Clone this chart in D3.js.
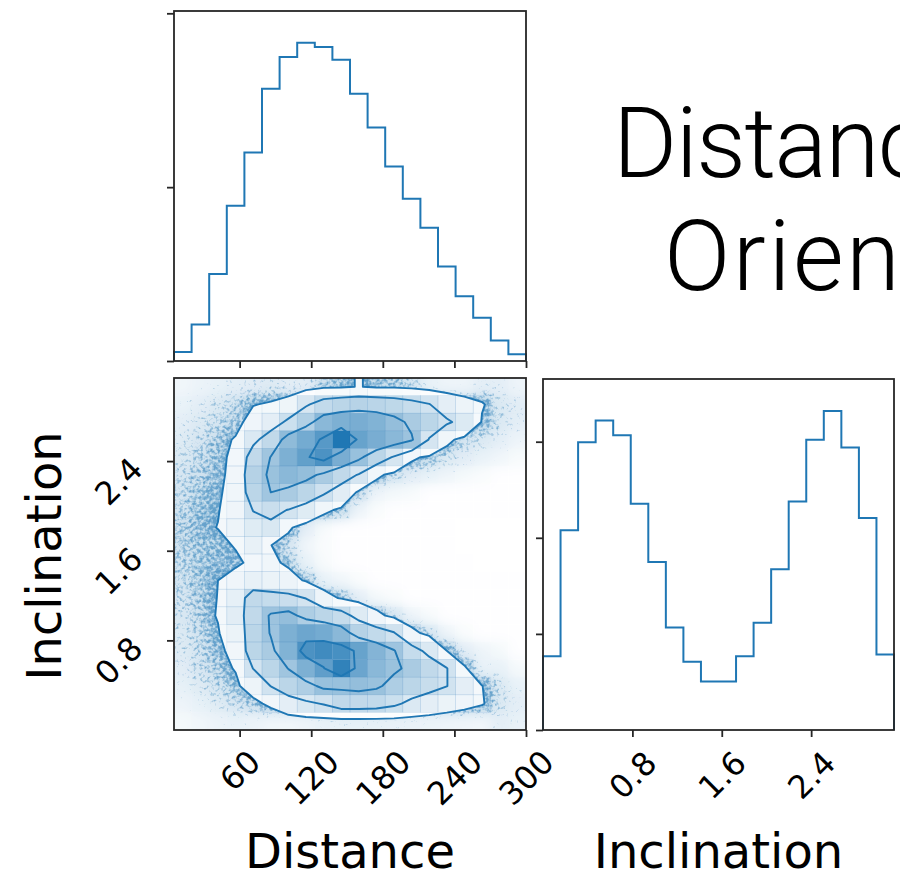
<!DOCTYPE html>
<html>
<head>
<meta charset="utf-8">
<script src="https://cdn.jsdelivr.net/npm/d3@7/dist/d3.min.js"></script>
<style>
  html, body { margin: 0; padding: 0; background: #fff; }
  svg { display: block; }
  .tick-label, .axis-label { font-family: "DejaVu Sans", sans-serif; fill: #000; }
  .title { font-family: Roboto, "Open Sans", sans-serif; font-weight: 300; fill: #000; }
</style>
</head>
<body>
<div id="chart"></div>
<script>
// ranges of the two parameters
const distRange = [5, 300];
const inclRange = [0, Math.PI];

// 1D marginal histograms (20 bins each)
const distCounts = [207, 842, 2004, 3573, 4797, 6265, 6992, 7321, 7222, 6931,
  6151, 5370, 4475, 3733, 3068, 2173, 1492, 995, 474, 153];
const inclCounts = [1537, 4155, 5990, 6440, 6136, 4709, 3497, 2133, 1420, 1011,
  1011, 1537, 2230, 3345, 4757, 6039, 6641, 5879, 4411, 1572];

// ticks
const distTicks = [60, 120, 180, 240, 300];
const distTickLabels = ['60', '120', '180', '240', '300'];
const inclTicks = [0.8, 1.6, 2.4];
const inclTickLabels = ['0.8', '1.6', '2.4'];
const distCountTicks = [0, 4000, 8000];
const inclCountTicks = [0, 2000, 4000, 6000];

// 2D histogram, % of peak cell; rows from top (high inclination) down, columns by distance
const density = [
  [1.0, 1.3, 1.6, 1.9, 2.1, 2.3, 2.0, 2.0, 3.5, 4.0, 5.3, 4.0, 3.8, 3.0, 1.5, 1.2, 1.2, 1.8, 1.8, 1.2],
  [1.4, 1.9, 2.5, 3.2, 4.8, 5.5, 7.5, 18, 27, 30, 32, 31, 29, 25, 20.5, 12, 8, 5.5, 2.5, 2.0],
  [1.8, 2.4, 3.0, 3.5, 7, 12, 23, 35, 52, 58, 60, 56, 48, 38, 30, 22, 15.5, 4.5, 2.5, 1.8],
  [2.2, 2.8, 3.6, 5.4, 16, 28, 50, 62, 75, 100, 68, 60, 52, 44, 19, 6.5, 3.0, 2.5, 1.8, 1.2],
  [2.5, 3.2, 4.0, 6, 28, 42.5, 58, 70, 80, 60, 46, 30, 18.5, 6, 4.0, 2.5, 2.0, 1.4, 1.0, 0.7],
  [2.8, 3.4, 4.2, 6.2, 33, 45, 52, 48, 38, 28, 19, 6.5, 3, 2, 1.5, 1.1, 0.8, 0.6, 0.5, 0.4],
  [3.0, 3.8, 4.5, 6.5, 30, 42, 38, 30, 22, 13, 3.5, 1.2, 0.9, 0.7, 0.5, 0.4, 0.3, 0.3, 0.3, 0.3],
  [3.2, 4.0, 4.8, 7, 20.5, 24, 19.5, 14, 6.5, 3.8, 1.2, 0.6, 0.4, 0.3, 0.3, 0.2, 0.2, 0.2, 0.2, 0.2],
  [3.4, 4.2, 5.1, 8, 14, 16.7, 6, 1.8, 0.7, 0.5, 0.4, 0.3, 0.3, 0.2, 0.2, 0.2, 0.15, 0.15, 0.15, 0.15],
  [3.4, 3.8, 4.0, 5.3, 10, 5.1, 2.7, 1.0, 0.6, 0.5, 0.4, 0.3, 0.3, 0.2, 0.2, 0.2, 0.15, 0.15, 0.15, 0.15],
  [3.2, 3.8, 4.3, 4.2, 6.0, 6.5, 3.8, 1.5, 0.7, 0.5, 0.4, 0.3, 0.3, 0.25, 0.2, 0.2, 0.2, 0.15, 0.15, 0.15],
  [3.0, 3.8, 5.0, 7, 10, 9, 8, 4.2, 1.5, 1.0, 0.6, 0.5, 0.4, 0.35, 0.3, 0.3, 0.25, 0.2, 0.2, 0.2],
  [2.8, 3.6, 5.1, 11, 28, 26, 24, 19.5, 8, 4.2, 1.8, 0.9, 0.6, 0.5, 0.4, 0.35, 0.3, 0.25, 0.2, 0.2],
  [2.6, 3.4, 5.3, 13, 28, 44, 48, 36, 30, 26, 15, 7, 3, 1.2, 0.7, 0.5, 0.4, 0.35, 0.3, 0.25],
  [2.4, 3.2, 4.6, 9, 30, 43, 58, 65, 62, 52, 33, 27, 21, 7, 3, 1.2, 0.6, 0.5, 0.4, 0.3],
  [2.2, 3.0, 4.2, 6.2, 30, 38, 56, 80, 85, 82, 68, 55, 43, 26, 16, 5.0, 2.0, 1.2, 0.8, 0.5],
  [2.0, 2.8, 3.6, 5.3, 20.3, 30, 42.5, 58, 71, 92, 66, 52, 45, 38, 28, 20.5, 5.6, 1.5, 1.5, 0.8],
  [1.6, 2.2, 3.0, 4.0, 8, 20.3, 30, 36, 46, 46, 48, 45, 36, 30, 25, 20.3, 12, 5.1, 2.5, 1.5],
  [1.2, 1.6, 2.2, 2.8, 3.5, 6.3, 12, 17, 21, 28, 28, 27, 23, 16, 12, 9, 7, 5.4, 2.5, 1.8],
  [0.8, 1.0, 1.3, 1.5, 1.3, 1.0, 1.0, 1.2, 1.5, 1.6, 1.6, 1.6, 1.5, 1.4, 1.3, 1.2, 1.1, 1.0, 1.8, 1.5],
];
const contourLevels = [5, 20, 42, 72];

const axisLabels = { dist: 'Distance', incl: 'Inclination' };
const titleLines = ['Distance and', 'Orientation'];

const style = {
  line: '#1f77b4',
  frame: '#262626',
  frameWidth: 1.8,
  tickSize: 7,
  tickFont: 32,
  labelFont: 48,
  titleFont: 98,
};

const box = {
  top: { x: 174, y: 11, w: 352, h: 350 },
  main: { x: 174, y: 378, w: 352, h: 352 },
  side: { x: 543, y: 379, w: 351, h: 351 },
};

const nx = density[0].length;
const ny = density.length;
const distStep = (distRange[1] - distRange[0]) / nx;
const inclStep = (inclRange[1] - inclRange[0]) / ny;
const distEdges = d3.range(nx + 1).map((i) => distRange[0] + i * distStep);
const inclEdges = d3.range(ny + 1).map((i) => inclRange[0] + i * inclStep);

const xDist = d3.scaleLinear().domain(distRange).range([box.main.x, box.main.x + box.main.w]);
const yIncl = d3.scaleLinear().domain(inclRange).range([box.main.y + box.main.h, box.main.y]);
const xIncl = d3.scaleLinear().domain(inclRange).range([box.side.x, box.side.x + box.side.w]);
const yDistCount = d3.scaleLinear().domain([0, 1.1 * d3.max(distCounts)]).range([box.top.y + box.top.h, box.top.y]);
const yInclCount = d3.scaleLinear().domain([0, 1.1 * d3.max(inclCounts)]).range([box.side.y + box.side.h, box.side.y]);

const svg = d3.select('#chart').append('svg')
  .attr('width', 900)
  .attr('height', 878);
const defs = svg.append('defs');

defs.append('clipPath').attr('id', 'clip-main')
  .append('rect')
  .attr('x', box.main.x).attr('y', box.main.y)
  .attr('width', box.main.w).attr('height', box.main.h);

// speckle filter: turns a soft density layer into a mottled cloud of points
const speckle = defs.append('filter')
  .attr('id', 'speckle')
  .attr('filterUnits', 'userSpaceOnUse')
  .attr('x', box.main.x).attr('y', box.main.y)
  .attr('width', box.main.w).attr('height', box.main.h)
  .attr('color-interpolation-filters', 'sRGB');
speckle.append('feGaussianBlur').attr('in', 'SourceAlpha').attr('stdDeviation', 6).attr('result', 'dens');
speckle.append('feTurbulence').attr('type', 'fractalNoise').attr('baseFrequency', 0.3)
  .attr('numOctaves', 2).attr('seed', 11).attr('result', 'noise');
speckle.append('feColorMatrix').attr('in', 'noise').attr('type', 'matrix')
  .attr('values', '0 0 0 0 0  0 0 0 0 0  0 0 0 0 0  1 0 0 0 0').attr('result', 'grain');
speckle.append('feComposite').attr('in', 'dens').attr('in2', 'grain').attr('operator', 'arithmetic')
  .attr('k1', 0).attr('k2', 2.8).attr('k3', 2.8).attr('k4', -2.8).attr('result', 'dots');
speckle.append('feComposite').attr('in', 'dens').attr('in2', 'dots').attr('operator', 'arithmetic')
  .attr('k1', 0).attr('k2', 0.3).attr('k3', 0.45).attr('k4', 0).attr('result', 'mix');
speckle.append('feFlood').attr('flood-color', style.line).attr('result', 'ink');
speckle.append('feComposite').attr('in', 'ink').attr('in2', 'mix').attr('operator', 'in');

// ---------- 1D histograms ----------
function stepPath(edges, counts, x, y) {
  const pts = [[x(edges[0]), y(0)]];
  counts.forEach((c, i) => pts.push([x(edges[i]), y(c)]));
  pts.push([x(edges[edges.length - 1]), y(counts[counts.length - 1])]);
  pts.push([x(edges[edges.length - 1]), y(0)]);
  return d3.line().curve(d3.curveStepAfter)(pts);
}

svg.append('path')
  .attr('class', 'hist hist--dist')
  .attr('d', stepPath(distEdges, distCounts, xDist, yDistCount))
  .attr('fill', 'none')
  .attr('stroke', style.line)
  .attr('stroke-width', 2);

svg.append('path')
  .attr('class', 'hist hist--incl')
  .attr('d', stepPath(inclEdges, inclCounts, xIncl, yInclCount))
  .attr('fill', 'none')
  .attr('stroke', style.line)
  .attr('stroke-width', 2);

// ---------- 2D panel ----------
const cells = [];
density.forEach((row, j) => row.forEach((v, i) => cells.push({ i, j, v })));
const vmax = d3.max(cells, (d) => d.v);

// cell bounds in data space; row 0 is the highest inclination
const cellX0 = (d) => xDist(distEdges[d.i]);
const cellX1 = (d) => xDist(distEdges[d.i + 1]);
const cellY0 = (d) => yIncl(inclRange[1] - d.j * inclStep);
const cellY1 = (d) => yIncl(inclRange[1] - (d.j + 1) * inclStep);

const main = svg.append('g').attr('class', 'main').attr('clip-path', 'url(#clip-main)');

// scattered samples, shown as a mottled cloud that follows the density
const hazeAlpha = (v) => Math.pow(Math.max(0, Math.min(1, (v - 0.5) / 4.5)), 0.7) * 0.8;
const pad = 20;
main.append('g')
  .attr('class', 'haze')
  .attr('filter', 'url(#speckle)')
  .selectAll('rect')
  .data(cells)
  .join('rect')
  .attr('x', (d) => cellX0(d) - (d.i === 0 ? pad : 0))
  .attr('y', (d) => cellY0(d) - (d.j === 0 ? pad : 0))
  .attr('width', (d) => cellX1(d) - cellX0(d) + (d.i === 0 || d.i === nx - 1 ? pad : 0) + 0.5)
  .attr('height', (d) => cellY1(d) - cellY0(d) + (d.j === 0 || d.j === ny - 1 ? pad : 0) + 0.5)
  .attr('fill', '#000')
  .attr('fill-opacity', (d) => hazeAlpha(d.v));

// like corner.py, the grid is padded with a copy of its edge rows/columns
// before contouring, so levels touching an edge run straight out of the frame
const padded = [];
for (let j = -1; j <= ny; j++) {
  const src = density[Math.max(0, Math.min(ny - 1, j))];
  for (let i = -1; i <= nx; i++) padded.push(src[Math.max(0, Math.min(nx - 1, i))]);
}
const gridToScreen = d3.geoTransform({
  point(gx, gy) {
    this.stream.point(
      xDist(distRange[0] + (gx - 1) * distStep),
      yIncl(inclRange[1] - (gy - 1) * inclStep),
    );
  },
});
const contourPath = d3.geoPath(gridToScreen);
const contours = d3.contours().size([nx + 2, ny + 2]).smooth(true).thresholds(contourLevels)(padded);

// white out the points inside the lowest level
main.append('path')
  .attr('class', 'contour-fill')
  .attr('d', contourPath(contours[0]))
  .attr('fill', '#fff');

// density cells
main.append('g')
  .attr('class', 'cells')
  .selectAll('rect')
  .data(cells)
  .join('rect')
  .attr('x', cellX0)
  .attr('y', cellY0)
  .attr('width', (d) => cellX1(d) - cellX0(d))
  .attr('height', (d) => cellY1(d) - cellY0(d))
  .attr('fill', style.line)
  .attr('fill-opacity', (d) => d.v / vmax)
  .attr('stroke', style.line)
  .attr('stroke-width', 0.7)
  .attr('stroke-opacity', (d) => (d.v >= contourLevels[0] ? 0.12 : 0));

main.append('g')
  .attr('class', 'contours')
  .selectAll('path')
  .data(contours)
  .join('path')
  .attr('d', contourPath)
  .attr('fill', 'none')
  .attr('stroke', style.line)
  .attr('stroke-width', 1.9)
  .attr('stroke-linejoin', 'round');

// ---------- frames and axes ----------
Object.values(box).forEach((b) => {
  svg.append('rect')
    .attr('class', 'frame')
    .attr('x', b.x).attr('y', b.y)
    .attr('width', b.w).attr('height', b.h)
    .attr('fill', 'none')
    .attr('stroke', style.frame)
    .attr('stroke-width', style.frameWidth);
});

function drawAxis(axis, tx, ty) {
  const g = svg.append('g')
    .attr('class', 'axis')
    .attr('transform', `translate(${tx}, ${ty})`)
    .call(axis);
  g.select('.domain').remove();
  g.selectAll('.tick line')
    .attr('stroke', style.frame)
    .attr('stroke-width', style.frameWidth);
  return g;
}

const noLabel = () => '';

drawAxis(d3.axisLeft(yDistCount).tickValues(distCountTicks).tickSize(style.tickSize).tickFormat(noLabel), box.top.x, 0);
drawAxis(d3.axisBottom(xDist).tickValues(distTicks).tickSize(style.tickSize).tickFormat(noLabel), 0, box.top.y + box.top.h);
drawAxis(d3.axisLeft(yInclCount).tickValues(inclCountTicks).tickSize(style.tickSize).tickFormat(noLabel), box.side.x, 0);

const mainX = drawAxis(d3.axisBottom(xDist).tickValues(distTicks).tickSize(style.tickSize)
  .tickFormat((d, i) => distTickLabels[i]), 0, box.main.y + box.main.h);
const mainY = drawAxis(d3.axisLeft(yIncl).tickValues(inclTicks).tickSize(style.tickSize)
  .tickFormat((d, i) => inclTickLabels[i]), box.main.x, 0);
const sideX = drawAxis(d3.axisBottom(xIncl).tickValues(inclTicks).tickSize(style.tickSize)
  .tickFormat((d, i) => inclTickLabels[i]), 0, box.side.y + box.side.h);

// rotated tick labels: the rotated box is centred under the tick (bottom) or
// right-aligned beside it (left)
function rotateLabels(g, place) {
  g.selectAll('.tick text')
    .attr('class', 'tick-label')
    .attr('x', null).attr('y', null).attr('dy', null)
    .attr('font-size', style.tickFont)
    .attr('font-family', null)
    .attr('text-anchor', 'middle')
    .attr('dominant-baseline', 'central')
    .attr('fill', '#000')
    .each(function () {
      const w = this.getComputedTextLength();
      const side = (w + 0.73 * style.tickFont) / Math.SQRT2;
      const [cx, cy] = place(side);
      d3.select(this).attr('transform', `translate(${cx}, ${cy}) rotate(-45)`);
    });
}
rotateLabels(mainX, (s) => [0, 18 + s / 2]);
rotateLabels(sideX, (s) => [0, 19 + s / 2]);
rotateLabels(mainY, (s) => [-29 - s / 2, 20]);

// axis labels
svg.append('text')
  .attr('class', 'axis-label')
  .attr('x', box.main.x + box.main.w / 2)
  .attr('y', 868)
  .attr('text-anchor', 'middle')
  .attr('font-size', style.labelFont)
  .text(axisLabels.dist);

svg.append('text')
  .attr('class', 'axis-label')
  .attr('x', box.side.x + box.side.w / 2)
  .attr('y', 868)
  .attr('text-anchor', 'middle')
  .attr('font-size', style.labelFont)
  .text(axisLabels.incl);

svg.append('text')
  .attr('class', 'axis-label')
  .attr('transform', `translate(61, ${box.main.y + box.main.h / 2 + 2}) rotate(-90)`)
  .attr('text-anchor', 'middle')
  .attr('font-size', style.labelFont)
  .text(axisLabels.incl);

// title, running off the right edge as in the original
svg.append('text')
  .attr('class', 'title')
  .attr('x', 613)
  .attr('y', 177)
  .attr('font-size', style.titleFont)
  .attr('letter-spacing', -1.5)
  .text(titleLines[0]);

svg.append('text')
  .attr('class', 'title')
  .attr('x', 664)
  .attr('y', 290)
  .attr('font-size', style.titleFont)
  .attr('letter-spacing', 2.5)
  .text(titleLines[1]);
</script>
</body>
</html>
